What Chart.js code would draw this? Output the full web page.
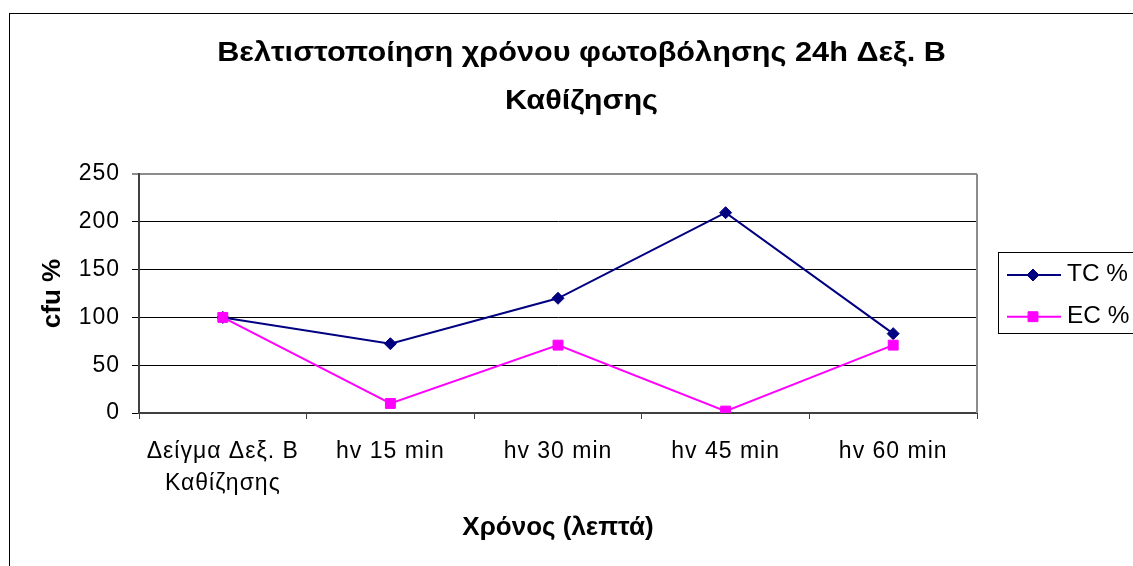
<!DOCTYPE html>
<html>
<head>
<meta charset="utf-8">
<script src="https://cdn.jsdelivr.net/npm/chart.js@4.4.1/dist/chart.umd.min.js"></script>
<style>
  html, body { margin: 0; padding: 0; background: #ffffff; }
  canvas { display: block; }
</style>
</head>
<body>
<canvas id="c" width="1133" height="566"></canvas>
<script>
// ---- data ----
const titleLines = ["Βελτιστοποίηση χρόνου φωτοβόλησης 24h Δεξ. Β", "Καθίζησης"];
const categories = [["Δείγμα Δεξ. Β", "Καθίζησης"], "hv 15 min", "hv 30 min", "hv 45 min", "hv 60 min"];
const seriesNames = ["TC %", "EC %"];
const tcValues = [100, 72.5, 120, 209.5, 83];
const ecValues = [100, 10, 71, 2, 71];
const yTicks = [0, 50, 100, 150, 200, 250];
const yTitle = "cfu %";
const xTitle = "Χρόνος (λεπτά)";

const FONT = "'Liberation Sans', Arial, sans-serif";
Chart.defaults.font.family = FONT;
Chart.defaults.color = '#000';

function setSpacing(ctx, v) {
  if ('letterSpacing' in ctx) ctx.letterSpacing = v;
}

const decor = {
  id: 'decor',
  beforeDraw(chart) {
    const ctx = chart.ctx;
    setSpacing(ctx, '1px');
    ctx.save();
    ctx.fillStyle = '#fff';
    ctx.fillRect(0, 0, chart.width, chart.height);
    ctx.strokeStyle = '#000';
    ctx.lineWidth = 1;
    ctx.strokeRect(9.5, 13.5, 3000, 3000);
    // title (slightly widened glyphs like the original)
    ctx.fillStyle = '#000';
    ctx.font = "bold 28px " + FONT;
    setSpacing(ctx, '0px');
    ctx.textAlign = 'center';
    ctx.textBaseline = 'middle';
    titleLines.forEach((t, i) => {
      ctx.save();
      ctx.translate(581.5, 53 + i * 48);
      ctx.scale(1.095, 1);
      ctx.fillText(t, 0, 0);
      ctx.restore();
    });
    ctx.restore();
  },
  beforeDatasetsDraw(chart) {
    const {ctx, chartArea: a} = chart;
    ctx.save();
    ctx.strokeStyle = '#8c8c8c';
    ctx.lineWidth = 2;
    ctx.beginPath();
    ctx.moveTo(a.right, a.top);
    ctx.lineTo(a.right, a.bottom);
    ctx.stroke();
    ctx.restore();
  },
  afterDraw(chart) {
    const {ctx, chartArea: a} = chart;
    ctx.save();
    // axis titles
    setSpacing(ctx, '0px');
    ctx.fillStyle = '#000';
    ctx.font = "bold 26px " + FONT;
    ctx.textAlign = 'center';
    ctx.textBaseline = 'middle';
    ctx.fillText(xTitle, (a.left + a.right) / 2, 528.3);
    ctx.save();
    ctx.translate(52.7, (a.top + a.bottom) / 2);
    ctx.rotate(-Math.PI / 2);
    ctx.fillText(yTitle, 0, 0);
    ctx.restore();
    // legend
    ctx.strokeStyle = '#000';
    ctx.lineWidth = 1;
    ctx.strokeRect(998.5, 252.5, 300, 81);
    chart.data.datasets.forEach((ds, i) => {
      const y = 275 + i * 41.7;
      ctx.strokeStyle = ds.borderColor;
      ctx.lineWidth = ds.borderWidth;
      ctx.beginPath();
      ctx.moveTo(1007, y);
      ctx.lineTo(1061, y);
      ctx.stroke();
      ctx.fillStyle = ds.pointBackgroundColor;
      ctx.strokeStyle = ds.pointBorderColor;
      ctx.lineWidth = ds.pointBorderWidth;
      Chart.helpers.drawPoint(ctx, {pointStyle: ds.pointStyle, radius: ds.pointRadius, borderWidth: ds.pointBorderWidth, rotation: 0}, 1033, y);
      ctx.fillStyle = '#000';
      ctx.font = "23px " + FONT;
      ctx.textAlign = 'left';
      ctx.textBaseline = 'middle';
      ctx.save();
      ctx.translate(1067, y);
      ctx.scale(1.06, 1);
      ctx.fillText(ds.label, 0, 0);
      ctx.restore();
    });
    ctx.restore();
  }
};

new Chart(document.getElementById('c'), {
  type: 'line',
  data: {
    labels: categories,
    datasets: [
      {
        label: seriesNames[0],
        data: tcValues,
        borderColor: '#000080',
        backgroundColor: '#000080',
        borderWidth: 2,
        pointStyle: 'rectRot',
        pointRadius: 6,
        pointBackgroundColor: '#000080',
        pointBorderColor: '#000080',
        pointBorderWidth: 1,
        tension: 0,
        order: 1
      },
      {
        label: seriesNames[1],
        data: ecValues,
        borderColor: '#ff00ff',
        backgroundColor: '#ff00ff',
        borderWidth: 2,
        pointStyle: 'rect',
        pointRadius: 7,
        pointBackgroundColor: '#ff00ff',
        pointBorderColor: '#ff00ff',
        pointBorderWidth: 1,
        tension: 0,
        order: 0
      }
    ]
  },
  options: {
    responsive: false,
    devicePixelRatio: 1,
    animation: false,
    layout: { padding: { top: 174, right: 156, bottom: 0, left: 0 } },
    plugins: {
      legend: { display: false },
      title: { display: false },
      tooltip: { enabled: false }
    },
    scales: {
      x: {
        offset: true,
        grid: {
          offset: true,
          drawOnChartArea: false,
          drawTicks: true,
          tickLength: 6,
          color: '#404040',
          lineWidth: 1
        },
        border: { display: true, color: '#404040', width: 2 },
        ticks: {
          autoSkip: false,
          maxRotation: 0,
          minRotation: 0,
          padding: 16,
          color: '#000',
          font: { size: 23, lineHeight: 1.42 }
        },
        title: { display: false },
        afterFit(scale) { scale.height = 153; }
      },
      y: {
        min: 0,
        max: 250,
        afterBuildTicks(scale) { scale.ticks = yTicks.map(v => ({ value: v })); },
        grid: {
          drawTicks: true,
          tickLength: 7,
          color: (c) => (c.tick && c.tick.value === 250) ? '#8c8c8c' : '#000',
          lineWidth: (c) => (c.tick && c.tick.value === 250) ? 2 : 1
        },
        border: { display: true, color: '#404040', width: 2 },
        ticks: {
          padding: 12,
          color: '#000',
          font: { size: 23 }
        },
        title: { display: false },
        afterFit(scale) { scale.width = 139; }
      }
    }
  },
  plugins: [decor]
});
</script>
</body>
</html>
